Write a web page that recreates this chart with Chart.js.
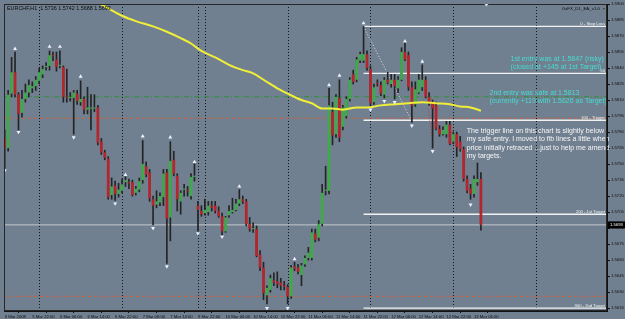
<!DOCTYPE html>
<html><head><meta charset="utf-8">
<script src="https://cdn.jsdelivr.net/npm/chart.js@4.4.1/dist/chart.umd.min.js"></script>
<style>html,body{margin:0;padding:0;background:#708090;overflow:hidden}#wrap{width:625px;height:319px;position:relative}canvas{display:block}</style>
</head><body><div id="wrap"><canvas id="c" width="625" height="319"></canvas></div>
<script>
// ---------- data ----------
const symbolTitle = "EURCHF,H1  1.5736 1.5742 1.5688 1.5693";
const expertName = "OzFX_D1_EA_v1.0";

const opens = [1.5774,1.5765,1.5816,1.5836,1.5815,1.5798,1.5811,1.5817,1.5821,1.5823,
1.5828,1.5834,1.5841,1.5842,1.5852,1.5848,1.5842,1.5841,1.5813,1.5812,
1.5812,1.5816,1.5808,1.5811,1.5801,1.5802,1.5802,1.5803,1.5771,1.5761,
1.5755,1.5721,1.5730,1.5722,1.5725,1.5733,1.5733,1.5733,1.5723,1.5726,
1.5735,1.5748,1.5742,1.5717,1.5712,1.5714,1.5719,1.5742,1.5700,1.5754,
1.5739,1.5715,1.5726,1.5726,1.5720,1.5738,1.5711,1.5706,1.5704,1.5705,
1.5711,1.5711,1.5706,1.5701,1.5687,1.5702,1.5705,1.5707,1.5713,1.5717,
1.5715,1.5694,1.5689,1.5689,1.5665,1.5653,1.5627,1.5632,1.5641,1.5640,
1.5639,1.5636,1.5635,1.5626,1.5654,1.5653,1.5646,1.5656,1.5662,1.5662,
1.5685,1.5681,1.5694,1.5725,1.5725,1.5799,1.5778,1.5812,1.5785,1.5795,
1.5811,1.5834,1.5829,1.5847,1.5847,1.5853,1.5839,1.5808,1.5826,1.5824,
1.5815,1.5829,1.5825,1.5829,1.5821,1.5829,1.5855,1.5852,1.5822,1.5806,
1.5817,1.5822,1.5829,1.5813,1.5808,1.5805,1.5783,1.5778,1.5778,1.5787,
1.5771,1.5778,1.5771,1.5764,1.5736,1.5727,1.5722,1.5733,1.5736];
const highs = [1.5782,1.5819,1.5850,1.5855,1.5817,1.5819,1.5825,1.5829,1.5827,1.5832,
1.5840,1.5842,1.5845,1.5856,1.5855,1.5855,1.5856,1.5842,1.5839,1.5817,
1.5819,1.5819,1.5828,1.5813,1.5822,1.5815,1.5815,1.5805,1.5774,1.5763,
1.5757,1.5737,1.5734,1.5732,1.5736,1.5738,1.5736,1.5735,1.5729,1.5737,
1.5772,1.5752,1.5745,1.5720,1.5725,1.5723,1.5745,1.5745,1.5771,1.5762,
1.5741,1.5725,1.5731,1.5729,1.5741,1.5750,1.5715,1.5711,1.5717,1.5715,
1.5715,1.5715,1.5710,1.5704,1.5701,1.5711,1.5718,1.5717,1.5726,1.5720,
1.5717,1.5700,1.5695,1.5692,1.5669,1.5658,1.5636,1.5646,1.5648,1.5649,
1.5643,1.5640,1.5637,1.5655,1.5658,1.5656,1.5657,1.5664,1.5672,1.5689,
1.5689,1.5697,1.5731,1.5748,1.5821,1.5808,1.5815,1.5829,1.5805,1.5813,
1.5831,1.5838,1.5850,1.5855,1.5879,1.5856,1.5842,1.5825,1.5829,1.5827,
1.5831,1.5836,1.5834,1.5834,1.5832,1.5859,1.5864,1.5855,1.5827,1.5827,
1.5834,1.5843,1.5832,1.5817,1.5810,1.5808,1.5786,1.5785,1.5790,1.5790,
1.5780,1.5780,1.5776,1.5766,1.5739,1.5731,1.5739,1.5751,1.5742];
const lows = [1.5746,1.5762,1.5813,1.5813,1.5782,1.5794,1.5808,1.5813,1.5817,1.5819,
1.5825,1.5831,1.5838,1.5838,1.5847,1.5837,1.5840,1.5808,1.5808,1.5809,
1.5778,1.5806,1.5805,1.5797,1.5797,1.5782,1.5799,1.5768,1.5759,1.5754,
1.5717,1.5717,1.5716,1.5719,1.5723,1.5729,1.5727,1.5720,1.5721,1.5724,
1.5732,1.5738,1.5715,1.5693,1.5709,1.5711,1.5711,1.5657,1.5678,1.5739,
1.5706,1.5703,1.5720,1.5720,1.5717,1.5734,1.5687,1.5701,1.5702,1.5702,
1.5706,1.5704,1.5700,1.5683,1.5686,1.5700,1.5704,1.5706,1.5711,1.5713,
1.5692,1.5687,1.5686,1.5663,1.5650,1.5623,1.5619,1.5630,1.5636,1.5634,
1.5632,1.5632,1.5619,1.5624,1.5650,1.5647,1.5636,1.5654,1.5660,1.5660,
1.5677,1.5678,1.5692,1.5721,1.5722,1.5768,1.5775,1.5771,1.5782,1.5793,
1.5809,1.5825,1.5827,1.5845,1.5845,1.5838,1.5803,1.5806,1.5823,1.5814,
1.5812,1.5825,1.5822,1.5811,1.5817,1.5828,1.5847,1.5819,1.5789,1.5804,
1.5816,1.5819,1.5812,1.5805,1.5765,1.5782,1.5776,1.5777,1.5775,1.5768,
1.5769,1.5757,1.5762,1.5734,1.5723,1.5717,1.5719,1.5730,1.5688];
const closes = [1.5765,1.5815,1.5836,1.5815,1.5797,1.5811,1.5817,1.5824,1.5823,1.5829,
1.5836,1.5839,1.5842,1.5852,1.5851,1.5841,1.5843,1.5813,1.5812,1.5813,
1.5817,1.5809,1.5811,1.5801,1.5803,1.5803,1.5803,1.5770,1.5761,1.5756,
1.5719,1.5729,1.5722,1.5726,1.5731,1.5735,1.5732,1.5721,1.5727,1.5734,
1.5750,1.5740,1.5718,1.5711,1.5715,1.5720,1.5741,1.5699,1.5753,1.5741,
1.5717,1.5723,1.5727,1.5725,1.5738,1.5739,1.5707,1.5703,1.5707,1.5711,
1.5709,1.5706,1.5701,1.5687,1.5700,1.5706,1.5707,1.5713,1.5717,1.5715,
1.5694,1.5689,1.5690,1.5664,1.5653,1.5629,1.5634,1.5643,1.5639,1.5638,
1.5636,1.5635,1.5626,1.5653,1.5652,1.5649,1.5655,1.5662,1.5667,1.5686,
1.5679,1.5694,1.5723,1.5726,1.5805,1.5777,1.5813,1.5775,1.5803,1.5811,
1.5829,1.5827,1.5848,1.5853,1.5853,1.5840,1.5807,1.5822,1.5825,1.5816,
1.5829,1.5826,1.5829,1.5823,1.5829,1.5855,1.5848,1.5822,1.5805,1.5820,
1.5829,1.5829,1.5813,1.5807,1.5802,1.5783,1.5778,1.5782,1.5787,1.5769,
1.5778,1.5766,1.5764,1.5736,1.5725,1.5722,1.5736,1.5736,1.5693];

// moving average (yellow) read at sample bars
const maIndex  = [25,30,34,38,43,47,51,54,57,61,65,69,72,75,79,82,86,89,92,95,98,102,105,109,113,117,121,125,129,132,135,138];
const maValues = [1.5905,1.5896,1.5889,1.5884,1.5879,1.5874,1.5868,1.5863,1.5856,1.5850,1.5843,1.5838,1.5835,1.5829,1.5821,1.5816,1.5810,1.5807,1.5802,1.5802,1.5801,1.5803,1.5803,1.5805,1.5806,1.5807,1.5808,1.5807,1.5806,1.5804,1.5803,1.5800];

// fractal arrows
const upFractalIndex  = [3,13,16,22,35,40,48,55,68,84,94,97,104,116,121];
const upFractalPrice  = [1.5858,1.5860,1.5860,1.5832,1.5740,1.5776,1.5775,1.5752,1.5729,1.5661,1.5824,1.5833,1.5882,1.5865,1.5846];
const downFractalIndex = [0,4,20,32,43,47,56,63,76,82,106,110,113,118,124,135];
const downFractalPrice = [1.5744,1.5780,1.5775,1.5713,1.5690,1.5654,1.5685,1.5682,1.5615,1.5615,1.5801,1.5809,1.5808,1.5786,1.5762,1.5712];

// fibonacci object
const fibAnchorIndex = 104;
const fibLevels = [1.5879, 1.5835, 1.5791, 1.5703, 1.5615];
const fibNames  = ["0 - Stop Loss", "50", "100 - Trigger", "200 - 1st Target", "300 - 2nd Target"];
const swingLineIndex = [104, 118];
const swingLinePrice = [1.5879, 1.5790];
const tradeLineIndex = [122.7, 124.2];
const tradeLinePrice = [1.5802, 1.5768];

// order / price lines
const entryPrice  = 1.5813;
const stopPrice   = 1.5793;
const targetPrice = 1.5626;
const bidPrice    = 1.5693;

// axes
const timeTickIndex  = [0,8,16,24,32,40,48,56,64,72,80,88,96,104,112,120,128,136];
const timeTickLabels = ["5 Mar 2008","5 Mar 22:00","6 Mar 06:00","6 Mar 14:00","6 Mar 22:00","7 Mar 06:00","7 Mar 14:00","9 Mar 22:00","10 Mar 06:00","10 Mar 14:00","10 Mar 22:00","11 Mar 06:00","11 Mar 14:00","11 Mar 22:00","12 Mar 06:00","12 Mar 14:00","12 Mar 22:00","13 Mar 06:00"];
const priceTicks = [1.5900,1.5885,1.5870,1.5855,1.5840,1.5825,1.5810,1.5795,1.5780,1.5765,1.5750,1.5735,1.5720,1.5705,1.5690,1.5675,1.5660,1.5645,1.5630,1.5615];
const daySeparators = [10,34,56,58,82,106,130,154];
const chartShiftIndex = 139.6;

// text notes anchored at (bar index, price)
const noteEntry1 = ["1st entry was at 1.5847 (risky)", "(closed at +145 at 1st Target)"];
const noteEntry2 = ["2nd entry was safe at 1.5813", "(currently +119 with 1.5626 as Target)"];
const noteTrigger = ["The trigger line on this chart is slightly below", "my safe entry. I moved to fib lines a little when", "price initially retraced ...just to help me amend", "my targets."];
const noteAnchors = [[146.6, 1.58483], [140.5, 1.58168], [133.9, 1.57809]];

// ---------- chart ----------
const X_MIN = -0.2, X_MAX = 174.54;
const Y_MIN = 1.56123, Y_MAX = 1.5900;
const FONT = "'Liberation Sans', Arial, sans-serif";
Chart.defaults.font.family = FONT;

const bodies = opens.map((o, i) => ({x: i, y: [o, closes[i]]}));
const wicks  = highs.map((h, i) => ({x: i, y: [lows[i], h]}));
const bodyColors = opens.map((o, i) => closes[i] >= o ? '#3faa4a' : '#b3262d');
const hLine = (x0, x1, p) => [{x: x0, y: p}, {x: x1, y: p}];

const fibSets = fibLevels.map((p, k) => ({
  type: 'line', label: 'fib' + k, data: hLine(fibAnchorIndex, X_MAX, p),
  borderColor: '#f2f2f2', borderWidth: 1.4, pointRadius: 0, order: 6
}));

const decor = {
  id: 'decor',
  beforeDraw(chart) {
    const {ctx, width, height} = chart;
    ctx.save(); ctx.fillStyle = '#708090'; ctx.fillRect(0, 0, width, height); ctx.restore();
  },
  beforeDatasetsDraw(chart) {
    const {ctx, chartArea: a, scales: {x}} = chart;
    ctx.save();
    ctx.strokeStyle = '#161616'; ctx.lineWidth = 1; ctx.setLineDash([1, 2]);
    daySeparators.forEach(i => {
      const px = Math.round(x.getPixelForValue(i)) + 0.5;
      if (px > a.left && px < a.right) { ctx.beginPath(); ctx.moveTo(px, a.top); ctx.lineTo(px, a.bottom); ctx.stroke(); }
    });
    ctx.restore();
  },
  afterDatasetsDraw(chart) {
    const {ctx, chartArea: a, scales: {x, y}} = chart;
    ctx.save();
    // fib labels
    ctx.font = '4.2px ' + FONT; ctx.fillStyle = '#f4f4f4'; ctx.textAlign = 'right'; ctx.textBaseline = 'bottom';
    fibLevels.forEach((p, k) => ctx.fillText(fibNames[k], a.right - 2, y.getPixelForValue(p) - 0.6));
    // notes
    const drawNote = (lines, anchor, color, step) => {
      ctx.font = '7px ' + FONT; ctx.fillStyle = color; ctx.textAlign = 'left'; ctx.textBaseline = 'middle';
      const px = x.getPixelForValue(anchor[0]), py = y.getPixelForValue(anchor[1]);
      lines.forEach((t, j) => ctx.fillText(t, px, py + j * step));
    };
    drawNote(noteEntry1, noteAnchors[0], '#46dcd0', 7.6);
    drawNote(noteEntry2, noteAnchors[1], '#46dcd0', 8.2);
    drawNote(noteTrigger, noteAnchors[2], '#f6f6f6', 8.3);
    ctx.restore();
  },
  afterDraw(chart) {
    const {ctx, chartArea: a, scales: {x, y}} = chart;
    ctx.save();
    // frame
    ctx.strokeStyle = '#262626'; ctx.lineWidth = 1;
    ctx.strokeRect(a.left + 0.5, a.top + 0.5, a.right - a.left - 1, a.bottom - a.top - 1);
    // title & expert
    ctx.fillStyle = '#0c0c0c'; ctx.textBaseline = 'middle';
    ctx.font = '5.4px ' + FONT; ctx.textAlign = 'left';
    ctx.fillText(symbolTitle, a.left + 3, a.top + 4.5);
    ctx.font = '4.4px ' + FONT; ctx.textAlign = 'right';
    ctx.fillText(expertName + '  \u00d7', a.right - 2, a.top + 5);
    // chart shift marker
    const sx = x.getPixelForValue(chartShiftIndex);
    ctx.fillStyle = '#d8d8d8';
    ctx.beginPath(); ctx.moveTo(sx - 2, a.top); ctx.lineTo(sx + 2, a.top); ctx.lineTo(sx, a.top + 2.5); ctx.closePath(); ctx.fill();
    // bid box
    const by = y.getPixelForValue(bidPrice);
    ctx.fillStyle = '#000'; ctx.fillRect(a.right + 1, by - 3.5, 625 - a.right - 1, 7);
    ctx.fillStyle = '#fff'; ctx.font = '4.2px ' + FONT; ctx.textAlign = 'left';
    ctx.fillText(bidPrice.toFixed(4), a.right + 3, by);
    ctx.restore();
  }
};

new Chart(document.getElementById('c'), {
  type: 'bar',
  data: {
    datasets: [
      {type: 'scatter', label: 'upFractals', data: upFractalIndex.map((i, k) => ({x: i, y: upFractalPrice[k]})),
       pointStyle: 'triangle', pointRadius: 2.3, pointBackgroundColor: '#eef0ff', pointBorderWidth: 0, order: -2},
      {type: 'scatter', label: 'downFractals', data: downFractalIndex.map((i, k) => ({x: i, y: downFractalPrice[k]})),
       pointStyle: 'triangle', pointRotation: 180, pointRadius: 2.3, pointBackgroundColor: '#eef0ff', pointBorderWidth: 0, order: -2},
      {type: 'line', label: 'MA', data: maIndex.map((i, k) => ({x: i, y: maValues[k]})),
       borderColor: '#f0ee38', borderWidth: 2, pointRadius: 0, cubicInterpolationMode: 'monotone', order: -1},
      {type: 'bar', label: 'bodies', data: bodies, backgroundColor: bodyColors, borderWidth: 0,
       grouped: false, barPercentage: 0.8, categoryPercentage: 1, minBarLength: 1, order: 1},
      {type: 'bar', label: 'wicks', data: wicks, backgroundColor: '#242424', borderWidth: 0,
       grouped: false, barThickness: 1, order: 2},
      {type: 'line', label: 'swing', data: swingLineIndex.map((i, k) => ({x: i, y: swingLinePrice[k]})),
       borderColor: '#e6e6e6', borderWidth: 1, borderDash: [1, 2], pointRadius: 0, order: 3},
      {type: 'line', label: 'trade', data: tradeLineIndex.map((i, k) => ({x: i, y: tradeLinePrice[k]})),
       borderColor: '#d03030', borderWidth: 1, borderDash: [1, 2], pointRadius: 0, order: 3},
      ...fibSets,
      {type: 'line', label: 'bid', data: hLine(X_MIN, X_MAX, bidPrice), borderColor: '#c4c8cc', borderWidth: 1, pointRadius: 0, order: 7},
      {type: 'line', label: 'entry', data: hLine(X_MIN, X_MAX, entryPrice), borderColor: '#2f8f3a', borderWidth: 1, borderDash: [5, 2, 1, 2], pointRadius: 0, order: 7},
      {type: 'line', label: 'stop', data: hLine(X_MIN, X_MAX, stopPrice), borderColor: '#d2603a', borderWidth: 1, borderDash: [3, 3], pointRadius: 0, order: 7},
      {type: 'line', label: 'target', data: hLine(X_MIN, X_MAX, targetPrice), borderColor: '#d2603a', borderWidth: 1, borderDash: [3, 3], pointRadius: 0, order: 7}
    ]
  },
  options: {
    responsive: false, animation: false, devicePixelRatio: 1, events: [],
    layout: {padding: {left: 1, top: 1, right: 0, bottom: 0}},
    plugins: {legend: {display: false}, tooltip: {enabled: false}},
    scales: {
      x: {
        type: 'linear', min: X_MIN, max: X_MAX, offset: false, position: 'bottom',
        afterBuildTicks: s => { s.ticks = timeTickIndex.map(v => ({value: v})); },
        afterFit: s => { s.height = 8; s.paddingLeft = 0; s.paddingRight = 0; },
        grid: {drawOnChartArea: false, drawTicks: true, tickLength: 2, color: '#111', lineWidth: 1},
        border: {display: true, color: '#111', width: 1},
        ticks: {autoSkip: false, maxRotation: 0, minRotation: 0, align: 'start', padding: 1, color: '#0c0c0c',
          font: {size: 4.2}, callback: v => { const k = timeTickIndex.indexOf(v); return k >= 0 ? timeTickLabels[k] : ''; }}
      },
      y: {
        type: 'linear', position: 'right', min: Y_MIN, max: Y_MAX,
        afterBuildTicks: s => { s.ticks = priceTicks.map(v => ({value: v})); },
        afterFit: s => { s.width = 18; s.paddingTop = 0; s.paddingBottom = 0; },
        grid: {drawOnChartArea: false, drawTicks: true, tickLength: 3, color: '#111'},
        border: {display: true, color: '#111', width: 1},
        ticks: {padding: 1, color: '#0c0c0c', font: {size: 4.2}, callback: v => Number(v).toFixed(4)}
      }
    }
  },
  plugins: [decor]
});
</script>
</body></html>
